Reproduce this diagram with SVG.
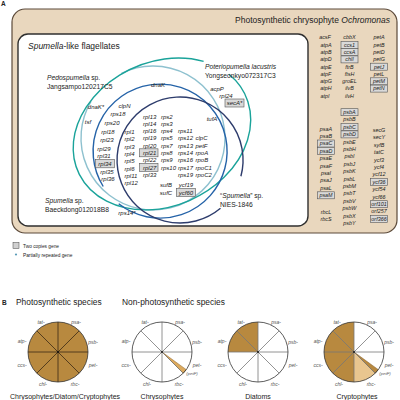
<svg xmlns="http://www.w3.org/2000/svg" width="400" height="400" viewBox="0 0 400 400">
<style>
text{font-family:"Liberation Sans",Arial,sans-serif;fill:#222}
.g{font-size:6px;font-style:italic}
.gm{font-size:6px;font-style:italic;text-anchor:middle}
.r{font-size:5.4px;font-style:italic;text-anchor:middle}
.bx{fill:#d9d9d9;stroke:#555;stroke-width:0.6}
.sp{font-size:6.7px}
.hd{font-size:8.5px}
.pl{font-size:5px;font-style:italic;text-anchor:middle;fill:#555}
.pf{font-size:4.3px;font-style:italic;text-anchor:middle;fill:#555}
.cap{font-size:7px;text-anchor:middle}
.ar{fill:none;stroke-width:1.4}
.sk1{stroke:#3b2a14;stroke-width:0.8}
.sk{stroke:#777;stroke-width:0.8}
.rim{fill:none;stroke:#333;stroke-width:0.8}
.br{fill:#b8893f}
</style>

<text x="1" y="6" style="font-size:6.5px;font-weight:bold">A</text>

<g id="ochromonas-panel">
<rect x="12" y="9" width="385" height="224" rx="13" fill="#e9d7be" stroke="#5c4a3a" stroke-width="1.2"/>
<text class="hd" x="390" y="23" text-anchor="end">Photosynthetic chrysophyte <tspan font-style="italic">Ochromonas</tspan></text>
</g>

<g id="spumella-panel">
<rect x="18" y="34" width="290" height="192" rx="10" fill="#fff" stroke="#2f2f2f" stroke-width="1.4"/>
<text class="hd" x="28" y="49"><tspan font-style="italic">Spumella</tspan>-like flagellates</text>
</g>

<g id="connectors">
<path class="ar" stroke="#8ec1cf" d="M121.4,73.3 A72,72 0 1 1 91.0,101.4"/>
<path class="ar" stroke="#1aa39a" transform="rotate(-25 162 134)" d="M247.9,108.2 A92,72 0 1 1 230.4,85.8"/>
<path class="ar" stroke="#2563a8" d="M103.2,186.5 A67,67 0 1 1 118.7,203.8"/>
<path class="ar" stroke="#2d3c6c" d="M220.5,208.3 A63,63 0 1 1 240.9,176.3"/>
</g>

<g id="species-labels">
<text class="sp" x="47" y="80"><tspan font-style="italic">Pedospumella</tspan> sp.</text>
<text class="sp" x="47" y="89">Jangsampo120217C5</text>
<text class="sp" x="205" y="69" font-style="italic">Poteriopumella lacustris</text>
<text class="sp" x="205" y="78">Yongseonkyo072317C3</text>
<text class="sp" x="45" y="203"><tspan font-style="italic">Spumella</tspan> sp.</text>
<text class="sp" x="45" y="212">Baeckdong012018B8</text>
<text class="sp" x="220" y="198">“<tspan font-style="italic">Spumella</tspan>” sp.</text>
<text class="sp" x="220" y="207">NIES-1846</text>
</g>

<g id="venn-genes">
<rect class="bx" x="95.5" y="159.5" width="19" height="8.3"/>
<rect class="bx" x="139.5" y="148.8" width="18.5" height="8"/>
<rect class="bx" x="139.5" y="163.4" width="18.5" height="8"/>
<rect class="bx" x="176.5" y="188.5" width="19" height="8"/>
<rect class="bx" x="225" y="99" width="19" height="8"/>

<text class="gm" x="158" y="86.5">dnaK</text>
<text class="gm" x="96" y="109">dnaK*</text>
<text class="gm" x="124.5" y="108">clpN</text>
<text class="gm" x="118" y="116">rps18</text>
<text class="gm" x="112" y="124.7">rps20</text>
<text class="gm" x="88" y="123.7">tsf</text>
<text class="gm" x="108" y="133.5">rpl18</text>
<text class="gm" x="107" y="142">rpl23</text>
<text class="gm" x="104" y="150.5">rpl29</text>
<text class="gm" x="104" y="158">rpl31</text>
<text class="gm" x="105" y="166">rpl34</text>
<text class="gm" x="107" y="173.5">rpl35</text>
<text class="gm" x="108" y="180.5">rpl36</text>

<text class="g" x="124.5" y="134">rpl1</text>
<text class="g" x="124.5" y="141.3">rpl2</text>
<text class="g" x="124.5" y="148.6">rpl3</text>
<text class="g" x="124.5" y="155.9">rpl4</text>
<text class="g" x="124.5" y="163.2">rpl5</text>
<text class="g" x="124.5" y="170.5">rpl6</text>
<text class="g" x="124.5" y="177.8">rpl11</text>
<text class="g" x="124.5" y="185.1">rpl12</text>

<text class="g" x="143" y="118.5">rpl13</text>
<text class="g" x="143" y="125.8">rpl14</text>
<text class="g" x="143" y="133.1">rpl16</text>
<text class="g" x="143" y="140.4">rpl19</text>
<text class="g" x="143" y="147.7">rpl20</text>
<text class="g" x="143" y="155">rpl21</text>
<text class="g" x="143" y="162.3">rpl22</text>
<text class="g" x="143" y="169.6">rpl27</text>
<text class="g" x="143" y="176.9">rpl33</text>

<text class="g" x="161" y="118.5">rps2</text>
<text class="g" x="161" y="125.8">rps3</text>
<text class="g" x="161" y="133.1">rps4</text>
<text class="g" x="161" y="140.4">rps5</text>
<text class="g" x="161" y="147.7">rps7</text>
<text class="g" x="161" y="155">rps8</text>
<text class="g" x="161" y="162.3">rps9</text>
<text class="g" x="161" y="169.6">rps10</text>

<text class="g" x="178" y="133.1">rps11</text>
<text class="g" x="178" y="140.4">rps12</text>
<text class="g" x="178" y="147.7">rps13</text>
<text class="g" x="178" y="155">rps14</text>
<text class="g" x="178" y="162.3">rps16</text>
<text class="g" x="178" y="169.6">rps17</text>
<text class="g" x="178" y="176.9">rps19</text>

<text class="g" x="195.5" y="140.4">clpC</text>
<text class="g" x="195.5" y="147.7">petF</text>
<text class="g" x="195.5" y="155">rpoA</text>
<text class="g" x="195.5" y="162.3">rpoB</text>
<text class="g" x="195.5" y="169.6">rpoC1</text>
<text class="g" x="195.5" y="176.9">rpoC2</text>

<text class="gm" x="166" y="187">sufB</text>
<text class="gm" x="166" y="195">sufC</text>
<text class="gm" x="186" y="186.5">ycf19</text>
<text class="gm" x="186" y="195">ycf60</text>

<text class="gm" x="212" y="121">tufA</text>
<text class="gm" x="217" y="91">acpP</text>
<text class="gm" x="226" y="98">rpl24</text>
<text class="gm" x="234.5" y="105.3">secA*</text>
<text class="gm" x="127" y="215">rps14*</text>
</g>

<g id="ochromonas-genes">
<rect class="bx" x="341" y="41.3" width="17" height="7"/>
<rect class="bx" x="341" y="48.6" width="17" height="7"/>
<rect class="bx" x="341" y="55.9" width="17" height="7"/>
<rect class="bx" x="370.5" y="63.2" width="17" height="7"/>
<rect class="bx" x="370.5" y="77.8" width="17" height="7"/>
<rect class="bx" x="370.5" y="85.1" width="17" height="7"/>

<text class="r" x="325" y="39.3">acsF</text>
<text class="r" x="326" y="46.6">atpA</text>
<text class="r" x="326" y="53.9">atpB</text>
<text class="r" x="326" y="61.2">atpD</text>
<text class="r" x="326" y="68.5">atpE</text>
<text class="r" x="326" y="75.8">atpF</text>
<text class="r" x="326" y="83.1">atpG</text>
<text class="r" x="326" y="90.4">atpH</text>
<text class="r" x="325" y="97.7">atpI</text>

<text class="r" x="349.5" y="39.3">cbbX</text>
<text class="r" x="349.5" y="46.6">ccs1</text>
<text class="r" x="349.5" y="53.9">ccsA</text>
<text class="r" x="349.5" y="61.2">chlI</text>
<text class="r" x="349.5" y="68.5">ftrB</text>
<text class="r" x="349.5" y="75.8">ftsH</text>
<text class="r" x="349.5" y="83.1">groEL</text>
<text class="r" x="349.5" y="90.4">ilvB</text>
<text class="r" x="349.5" y="97.7">ilvH</text>

<text class="r" x="379" y="39.3">petA</text>
<text class="r" x="379" y="46.6">petB</text>
<text class="r" x="379" y="53.9">petD</text>
<text class="r" x="379" y="61.2">petG</text>
<text class="r" x="379" y="68.5">petJ</text>
<text class="r" x="379" y="75.8">petL</text>
<text class="r" x="379" y="83.1">petM</text>
<text class="r" x="379" y="90.4">petN</text>

<rect class="bx" x="317.5" y="140" width="17" height="7"/>
<rect class="bx" x="317.5" y="147.4" width="17" height="7"/>
<rect class="bx" x="317.5" y="191.8" width="17" height="7"/>
<rect class="bx" x="341" y="108.7" width="17" height="7"/>
<rect class="bx" x="341" y="123.5" width="17" height="7"/>
<rect class="bx" x="341" y="130.9" width="17" height="7"/>
<rect class="bx" x="370.5" y="178.5" width="17" height="7"/>
<rect class="bx" x="370.5" y="200.7" width="17" height="7"/>
<rect class="bx" x="370.5" y="215.5" width="17" height="7"/>

<text class="r" x="326" y="130.5">psaA</text>
<text class="r" x="326" y="137.9">psaB</text>
<text class="r" x="326" y="145.3">psaC</text>
<text class="r" x="326" y="152.7">psaD</text>
<text class="r" x="326" y="160.1">psaE</text>
<text class="r" x="326" y="167.5">psaF</text>
<text class="r" x="326" y="174.9">psaI</text>
<text class="r" x="326" y="182.3">psaJ</text>
<text class="r" x="326" y="189.7">psaL</text>
<text class="r" x="326" y="197.1">psaM</text>
<text class="r" x="326" y="213.5">rbcL</text>
<text class="r" x="326" y="220.9">rbcS</text>

<text class="r" x="349.5" y="114">psbA</text>
<text class="r" x="349.5" y="121.4">psbB</text>
<text class="r" x="349.5" y="128.8">psbC</text>
<text class="r" x="349.5" y="136.2">psbD</text>
<text class="r" x="349.5" y="143.6">psbE</text>
<text class="r" x="349.5" y="151">psbH</text>
<text class="r" x="349.5" y="158.4">psbI</text>
<text class="r" x="349.5" y="165.8">psbJ</text>
<text class="r" x="349.5" y="173.2">psbK</text>
<text class="r" x="349.5" y="180.6">psbL</text>
<text class="r" x="349.5" y="188">psbM</text>
<text class="r" x="349.5" y="195.4">psbT</text>
<text class="r" x="349.5" y="202.8">psbV</text>
<text class="r" x="349.5" y="210.2">psbW</text>
<text class="r" x="349.5" y="217.6">psbX</text>
<text class="r" x="349.5" y="225">psbY</text>

<text class="r" x="379" y="132">secG</text>
<text class="r" x="379" y="139.4">secY</text>
<text class="r" x="379" y="146.8">syfB</text>
<text class="r" x="379" y="154.2">tatC</text>
<text class="r" x="379" y="161.6">ycf3</text>
<text class="r" x="379" y="169">ycf4</text>
<text class="r" x="379" y="176.4">ycf12</text>
<text class="r" x="379" y="183.8">ycf36</text>
<text class="r" x="379" y="191.2">ycf54</text>
<text class="r" x="379" y="198.6">ycf66</text>
<text class="r" x="379" y="206">orf101</text>
<text class="r" x="379" y="213.4">orf257</text>
<text class="r" x="379" y="220.8">orf366</text>
</g>

<g id="legend">
<rect x="13" y="242.5" width="6" height="6" fill="#d0d0d0" stroke="#444" stroke-width="0.5"/>
<text x="23" y="248" style="font-size:4.8px">Two copies gene</text>
<circle cx="16" cy="254.5" r="1.1" fill="#5a9bb8"/>
<text x="23" y="256.5" style="font-size:4.8px">Partially repeated gene</text>
</g>

<text x="2" y="304.5" style="font-size:6.5px;font-weight:bold">B</text>
<text x="16" y="304.5" style="font-size:8.4px">Photosynthetic species</text>
<text x="122" y="304.5" style="font-size:8.4px">Non-photosynthetic species</text>

<g id="pie-photosynthetic">
<circle cx="58" cy="352" r="30" class="br"/>
<g class="sk1"><line x1="28" y1="352" x2="88" y2="352"/><line x1="58" y1="322" x2="58" y2="382"/><line x1="36.79" y1="330.79" x2="79.21" y2="373.21"/><line x1="36.79" y1="373.21" x2="79.21" y2="330.79"/></g>
<circle cx="58" cy="352" r="30" class="rim"/>
<circle cx="58" cy="352" r="0.9" fill="#111"/>
<text class="pl" x="41" y="323.7">tat-</text><text class="pl" x="76" y="323.7">psa-</text>
<text class="pl" x="22" y="342.7">atp-</text><text class="pl" x="93" y="343.7">psb-</text>
<text class="pl" x="22" y="366.7">ccs-</text><text class="pl" x="93" y="366.7">pet-</text>
<text class="pl" x="43" y="385.7">chl-</text><text class="pl" x="75" y="385.7">rbc-</text>
<text class="cap" x="65" y="399">Chrysophytes/Diatom/Cryptophytes</text>
</g>

<g id="pie-chrysophytes">
<circle cx="162" cy="352" r="30" fill="#fff"/>
<path d="M162,352 L186.27,369.63 A30,30 0 0 1 183.21,373.21 Z" fill="#dcaa5e" stroke="#8b5e1e" stroke-width="0.5"/>
<g class="sk"><line x1="132" y1="352" x2="192" y2="352"/><line x1="162" y1="322" x2="162" y2="382"/><line x1="140.79" y1="330.79" x2="183.21" y2="373.21"/><line x1="140.79" y1="373.21" x2="183.21" y2="330.79"/></g>
<circle cx="162" cy="352" r="30" class="rim"/>
<circle cx="162" cy="352" r="0.9" fill="#111"/>
<text class="pl" x="145" y="323.7">tat-</text><text class="pl" x="180" y="323.7">psa-</text>
<text class="pl" x="126" y="342.7">atp-</text><text class="pl" x="197" y="343.7">psb-</text>
<text class="pl" x="126" y="366.7">ccs-</text><text class="pl" x="197" y="366.7">pet-</text>
<text class="pl" x="147" y="385.7">chl-</text><text class="pl" x="179" y="385.7">rbc-</text>
<text class="pf" x="192" y="375">(petF)</text>
<text class="cap" x="162" y="399">Chrysophytes</text>
</g>

<g id="pie-diatoms">
<circle cx="258" cy="352" r="30" fill="#fff"/>
<path d="M258,352 L228,352 A30,30 0 0 1 258,322 Z" class="br"/>
<g class="sk"><line x1="228" y1="352" x2="288" y2="352"/><line x1="258" y1="322" x2="258" y2="382"/><line x1="236.79" y1="330.79" x2="279.21" y2="373.21"/><line x1="236.79" y1="373.21" x2="279.21" y2="330.79"/></g>
<circle cx="258" cy="352" r="30" class="rim"/>
<circle cx="258" cy="352" r="0.9" fill="#111"/>
<text class="pl" x="241" y="323.7">tat-</text><text class="pl" x="276" y="323.7">psa-</text>
<text class="pl" x="222" y="342.7">atp-</text><text class="pl" x="293" y="343.7">psb-</text>
<text class="pl" x="222" y="366.7">ccs-</text><text class="pl" x="293" y="366.7">pet-</text>
<text class="pl" x="243" y="385.7">chl-</text><text class="pl" x="275" y="385.7">rbc-</text>
<text class="cap" x="258" y="399">Diatoms</text>
</g>

<g id="pie-cryptophytes">
<circle cx="354" cy="352" r="30" fill="#fff"/>
<path d="M354,352 L354,382 A30,30 0 0 1 354,322 Z" class="br"/>
<path d="M354,352 L375.21,373.21 A30,30 0 0 1 354,382 Z" fill="#e9c68f"/>
<path d="M354,352 L378.27,369.63 A30,30 0 0 1 375.21,373.21 Z" fill="#b8893f" stroke="#7a5218" stroke-width="0.5"/>
<g class="sk"><line x1="324" y1="352" x2="384" y2="352"/><line x1="354" y1="322" x2="354" y2="382"/><line x1="332.79" y1="330.79" x2="375.21" y2="373.21"/><line x1="332.79" y1="373.21" x2="375.21" y2="330.79"/></g>
<circle cx="354" cy="352" r="30" class="rim"/>
<circle cx="354" cy="352" r="0.9" fill="#111"/>
<text class="pl" x="337" y="323.7">tat-</text><text class="pl" x="372" y="323.7">psa-</text>
<text class="pl" x="318" y="342.7">atp-</text><text class="pl" x="389" y="343.7">psb-</text>
<text class="pl" x="318" y="366.7">ccs-</text><text class="pl" x="389" y="366.7">pet-</text>
<text class="pl" x="339" y="385.7">chl-</text><text class="pl" x="371" y="385.7">rbc-</text>
<text class="pf" x="385" y="375">(petF)</text>
<text class="cap" x="357" y="399">Cryptophytes</text>
</g>
</svg>
